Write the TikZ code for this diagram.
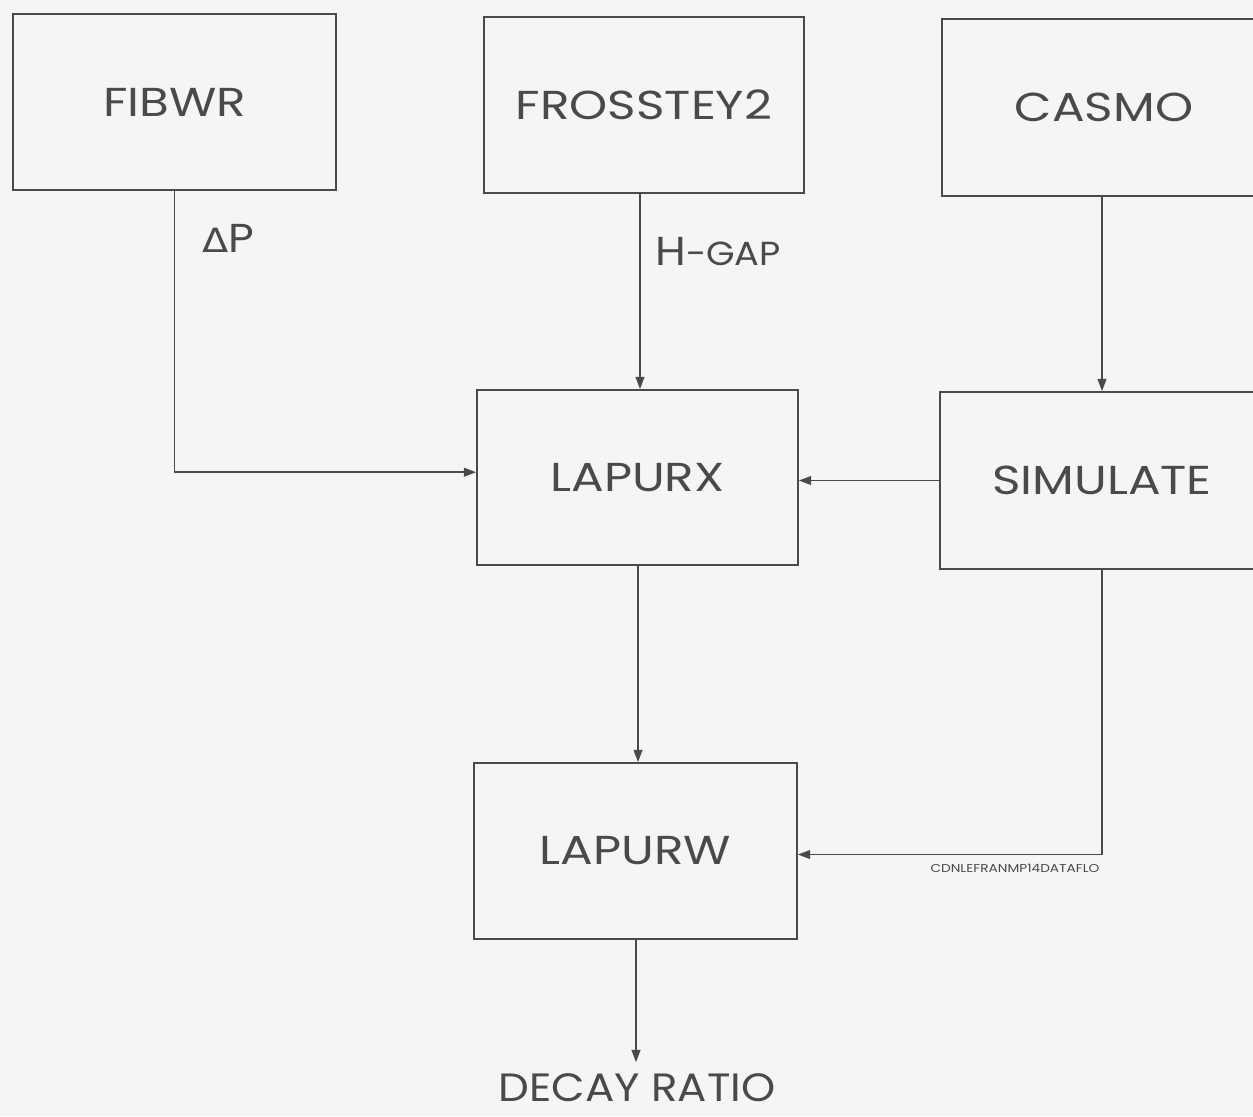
\documentclass[tikz,border=0pt]{standalone}
\usepackage{fontspec}
\setmainfont{Poppins}
\newfontfamily\widefont[FakeStretch=1.2]{Poppins}
\newfontfamily\midfont[FakeStretch=1.1]{Poppins}
\newfontfamily\greekfont[FakeStretch=1.15]{DejaVu Sans}
\usetikzlibrary{arrows.meta}
\definecolor{paper}{HTML}{F5F5F3}
\definecolor{ink}{HTML}{4A4A4A}
\tikzset{
  box/.style={draw=ink, line width=1pt, minimum width=6.44cm, minimum height=3.52cm, inner sep=0pt, text=ink, font=\widefont\fontsize{23}{26}\selectfont},
  conn/.style={draw=ink, line width=0.9pt, -{Triangle[length=7pt,width=5pt]}},
  lbl/.style={text=ink, inner sep=0pt, font=\midfont\fontsize{23}{26}\selectfont}
}
\begin{document}
\begin{tikzpicture}[x=0.02cm,y=-0.02cm]
\useasboundingbox (0,0) rectangle (1253,1116);
\fill[paper] (0,0) rectangle (1253,1116);
\clip (0,0) rectangle (1253,1116);
\node[box, minimum width=6.46cm] (fib) at (174.5,102) {FIBWR};
\node[box, minimum width=6.40cm] (fro) at (644,105) {FROSSTEY2};
\node[box, minimum width=6.48cm, minimum height=3.54cm] (cas) at (1104,107.5) {CASMO};
\node[box, minimum width=6.42cm, minimum height=3.50cm] (lx) at (637.5,477.5) {LAPURX};
\node[box, minimum width=6.48cm, minimum height=3.54cm] (sim) at (1102,480.5) {SIMULATE};
\node[box, minimum width=6.46cm] (lw) at (635.5,851) {LAPURW};
\node[lbl, anchor=base, font=\midfont\fontsize{22.5}{26}\selectfont] (dr) at (637,1101) {DECAY RATIO};
\node[lbl] (dp) at (228,238) {{\greekfont\fontsize{19}{22}\selectfont Δ}P};
\node[lbl, anchor=west] (hg) at (655,252) {H{\fontsize{19}{22}\selectfont -GAP}};
\node[text=ink, inner sep=0pt, font=\widefont\fontsize{6.5}{7}\selectfont] (ref) at (1015,868) {CDNLEFRANMP14DATAFLO};
\draw[conn] (fib.south) |- ([yshift=3pt]lx.west);
\draw[conn] (fro.south -| 640,0) -- (lx.north -| 640,0);
\draw[conn] (cas.south -| sim.center) -- (sim.north);
\draw[conn] (sim.west) -- (sim.west -| lx.east);
\draw[conn] (lx.south -| 638,0) -- (lw.north -| 638,0);
\draw[conn] (sim.south) |- ([yshift=-2pt]lw.east);
\draw[conn] (lw.south -| 636,0) -- ([yshift=6pt]dr.north -| 636,0);
\end{tikzpicture}
\end{document}
